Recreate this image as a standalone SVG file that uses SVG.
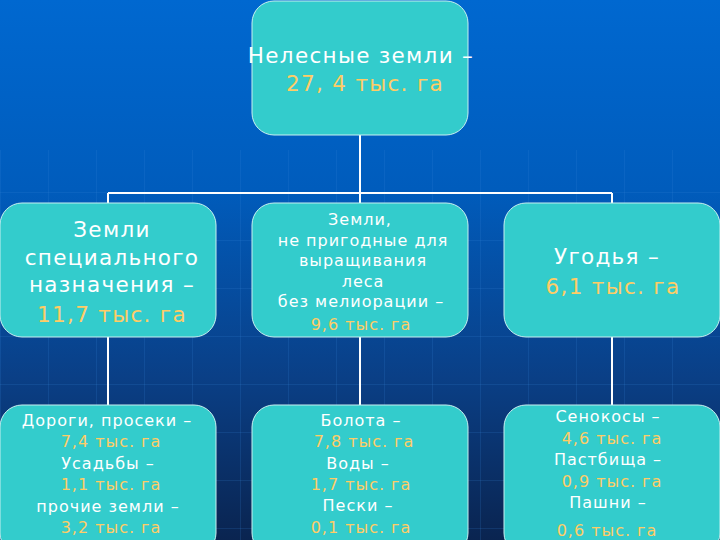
<svg xmlns="http://www.w3.org/2000/svg" width="720" height="540" viewBox="0 0 720 540">
<defs>
<linearGradient id="bg" x1="0" y1="0" x2="0" y2="1">
<stop offset="0" stop-color="#0068d0"/>
<stop offset="0.35" stop-color="#005cbc"/>
<stop offset="0.7" stop-color="#0a3f86"/>
<stop offset="1" stop-color="#0a2450"/>
</linearGradient>
<pattern id="grid" width="48" height="48" patternUnits="userSpaceOnUse">
<path d="M0 0.5H48M0.5 0V48" stroke="#3a86d8" stroke-width="1" fill="none" opacity="0.18"/>
</pattern>
<style>
.box{fill:#33cccc;stroke:#c8f0f0;stroke-width:1}
.w{fill:#ffffff;font-family:"DejaVu Sans",Verdana,sans-serif;text-anchor:middle}
.y{fill:#ffcc66;font-family:"DejaVu Sans",Verdana,sans-serif;text-anchor:middle}
.l{font-size:21.5px;letter-spacing:1.3px}
.s{font-size:16px;letter-spacing:1px}
.c{stroke:#ffffff;stroke-width:2;fill:none}
</style>
</defs>
<rect width="720" height="540" fill="url(#bg)"/>
<rect y="150" width="720" height="390" fill="url(#grid)"/>
<g id="connectors">
<path class="c" d="M360 135V193M108 193H612M108 193V203M360 193V203M612 193V203"/>
<path class="c" d="M108 337V405M360 337V405M612 337V405"/>
</g>
<g id="root">
<rect class="box" x="252" y="1" width="216" height="134" rx="22"/>
<text class="w l" x="361" y="63">Нелесные земли –</text>
<text class="y l" x="365" y="91">27, 4 тыс. га</text>
</g>
<g id="special">
<rect class="box" x="0" y="203" width="216" height="134" rx="22"/>
<text class="w l" x="112" y="237">Земли</text>
<text class="w l" x="112" y="265">специального</text>
<text class="w l" x="112" y="292">назначения –</text>
<text class="y l" x="112" y="322">11,7 тыс. га</text>
</g>
<g id="unfit">
<rect class="box" x="252" y="203" width="216" height="134" rx="22"/>
<text class="w s" x="360" y="225">Земли,</text>
<text class="w s" x="363" y="246">не пригодные для</text>
<text class="w s" x="363" y="266">выращивания</text>
<text class="w s" x="363" y="287">леса</text>
<text class="w s" x="361" y="307">без мелиорации –</text>
<text class="y s" x="361" y="330">9,6 тыс. га</text>
</g>
<g id="lands">
<rect class="box" x="504" y="203" width="216" height="134" rx="22"/>
<text class="w l" x="607" y="264">Угодья –</text>
<text class="y l" x="613" y="294">6,1 тыс. га</text>
</g>
<g id="roads">
<rect class="box" x="0" y="405" width="216" height="150" rx="22"/>
<text class="w s" x="107" y="426">Дороги, просеки –</text>
<text class="y s" x="111" y="447">7,4 тыс. га</text>
<text class="w s" x="108" y="469">Усадьбы –</text>
<text class="y s" x="111" y="490">1,1 тыс. га</text>
<text class="w s" x="108" y="512">прочие земли –</text>
<text class="y s" x="111" y="533">3,2 тыс. га</text>
</g>
<g id="swamps">
<rect class="box" x="252" y="405" width="216" height="150" rx="22"/>
<text class="w s" x="361" y="426">Болота –</text>
<text class="y s" x="364" y="447">7,8 тыс. га</text>
<text class="w s" x="358" y="469">Воды –</text>
<text class="y s" x="361" y="490">1,7 тыс. га</text>
<text class="w s" x="358" y="511">Пески –</text>
<text class="y s" x="361" y="533">0,1 тыс. га</text>
</g>
<g id="agri">
<rect class="box" x="504" y="405" width="216" height="150" rx="22"/>
<text class="w s" x="608" y="422">Сенокосы –</text>
<text class="y s" x="612" y="444">4,6 тыс. га</text>
<text class="w s" x="608" y="465">Пастбища –</text>
<text class="y s" x="612" y="487">0,9 тыс. га</text>
<text class="w s" x="608" y="508">Пашни –</text>
<text class="y s" x="607" y="536">0,6 тыс. га</text>
</g>
</svg>
